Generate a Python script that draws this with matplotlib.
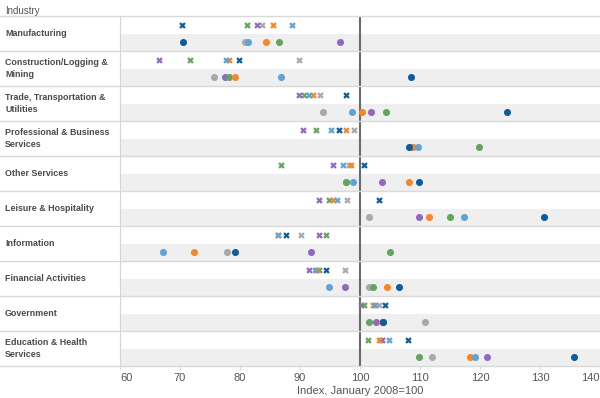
import numpy as np
import matplotlib.pyplot as plt
from matplotlib.lines import Line2D

plt.rcParams['font.family'] = ['Liberation Sans', 'DejaVu Sans']

industries = [
    "Manufacturing",
    "Construction/Logging &\nMining",
    "Trade, Transportation &\nUtilities",
    "Professional & Business\nServices",
    "Other Services",
    "Leisure & Hospitality",
    "Information",
    "Financial Activities",
    "Government",
    "Education & Health\nServices",
]

# top row of each industry (cross markers)
gray_x = [83.7, 89.8, 93.3, 99.0, 98.1, 97.8, 90.1, 97.5, 103.1, 103.4]
purple_x = [82.9, 66.5, 89.9, 90.5, 95.5, 93.2, 93.2, 91.5, 100.2, 103.7]
green_x = [81.2, 71.7, 90.7, 92.7, 86.8, 94.8, 94.4, 93.2, 100.7, 101.4]
orange_x = [85.5, 78.2, 92.1, 97.7, 98.5, 95.5, 86.3, 92.8, 102.1, 103.1]
light_blue_x = [88.6, 77.6, 91.5, 95.2, 97.2, 96.2, 86.4, 92.5, 102.5, 104.9]
dark_blue_x = [70.4, 79.8, 97.7, 96.5, 100.7, 103.2, 87.6, 94.3, 104.2, 108.0]

# bottom row of each industry (circles)
gray_o = [80.9, 75.7, 93.8, 108.6, 97.6, 101.5, 77.8, 101.5, 110.8, 112.0]
purple_o = [96.6, 77.5, 101.9, 108.3, 103.7, 109.8, 91.8, 97.5, 102.7, 121.2]
green_o = [86.5, 78.2, 104.4, 119.8, 97.7, 115.0, 105.0, 102.1, 101.5, 109.8]
orange_o = [84.3, 79.2, 100.3, 108.9, 108.1, 111.5, 72.4, 104.5, 103.7, 118.3]
light_blue_o = [81.4, 86.8, 98.7, 109.7, 98.8, 117.3, 67.2, 94.8, 103.8, 119.2]
dark_blue_o = [70.5, 108.5, 124.5, 108.1, 109.9, 130.7, 79.2, 106.5, 103.9, 135.6]

series = [
    ("#a9a9a9", gray_x, gray_o),
    ("#9467c2", purple_x, purple_o),
    ("#62a55c", green_x, green_o),
    ("#f5862a", orange_x, orange_o),
    ("#5fa3d9", light_blue_x, light_blue_o),
    ("#0d5c9e", dark_blue_x, dark_blue_o),
]

W, H = 600, 398
top_px, band_px, left_px = 16, 35, 120
n = len(industries)

fig = plt.figure(figsize=(W / 100, H / 100), dpi=100)
ax = fig.add_axes([left_px / W, 1 - (top_px + band_px * n) / H, 1 - left_px / W, band_px * n / H])

for i in range(n):
    ax.axhspan(2 * i + 1, 2 * i + 2, color="#efefef", lw=0, zorder=0)

rows = np.arange(n)
for color, xs, os_ in series:
    ax.scatter(xs, 2 * rows + 0.5, marker="X", s=22, color=color, lw=0, zorder=3)
    ax.scatter(os_, 2 * rows + 1.5, marker="o", s=26, color=color, lw=0, zorder=3)

ax.axvline(100, color="#6a6a6a", lw=1.5, zorder=2)

ax.set_xlim(60, 140)
ax.set_ylim(2 * n, 0)
ax.set_yticks([])
ax.set_xticks(range(60, 141, 10))
ax.tick_params(axis="x", length=3, color="#dddddd", labelsize=8, labelcolor="#555555", pad=2)
labels = ax.get_xticklabels()
labels[0].set_ha("left")
labels[-1].set_ha("right")
for s in ["top", "right", "bottom"]:
    ax.spines[s].set_visible(False)
ax.spines["left"].set_color("#d4d4d4")
ax.set_xlabel("Index, January 2008=100", fontsize=8, color="#555555", labelpad=2)

# separators across the whole width, including the label column
for i in range(n + 1):
    y = 1 - (top_px + band_px * i) / H
    fig.add_artist(Line2D([0, 1], [y, y], color="#d9d9d9", lw=1, transform=fig.transFigure))

for i, name in enumerate(industries):
    y = 1 - (top_px + band_px * (i + 0.5)) / H
    fig.text(5 / W, y, name, ha="left", va="center", fontsize=6.4, fontweight="bold",
             color="#4a4a4a", linespacing=1.35)

fig.text(5 / W, 1 - 11 / H, "Industry", ha="left", va="center", fontsize=7, color="#555555")

fig.savefig("out.png", dpi=100)
